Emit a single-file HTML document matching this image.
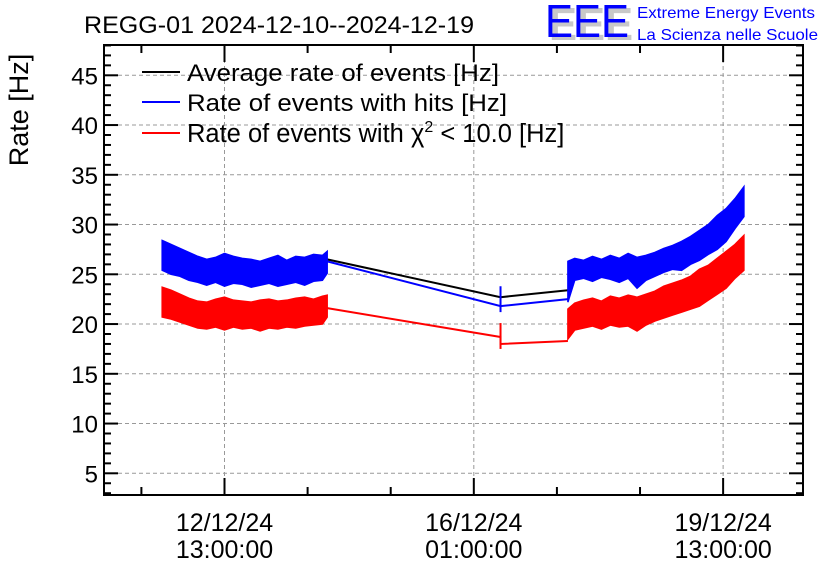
<!DOCTYPE html>
<html><head><meta charset="utf-8"><style>
body{margin:0;background:#fff;}
svg{display:block;font-family:"Liberation Sans",sans-serif;}
</style></head><body>
<svg id="c" width="836" height="572" viewBox="0 0 836 572">
<rect width="836" height="572" fill="#fff"/>
<text x="84" y="33" font-size="24" textLength="390" lengthAdjust="spacingAndGlyphs">REGG-01 2024-12-10--2024-12-19</text>
<g>
<text x="549" y="40" font-size="46" fill="#c8c8c8" font-weight="bold" textLength="84" lengthAdjust="spacingAndGlyphs">EEE</text>
<text x="545" y="37" font-size="46" fill="#0000ff" textLength="84" lengthAdjust="spacingAndGlyphs">EEE</text>
<text x="637" y="18" font-size="16" fill="#0000ff" textLength="178" lengthAdjust="spacingAndGlyphs">Extreme Energy Events</text>
<text x="637" y="40" font-size="16" fill="#0000ff" textLength="181" lengthAdjust="spacingAndGlyphs">La Scienza nelle Scuole</text>
</g>
<text transform="translate(28,110) rotate(-90)" font-size="27" text-anchor="middle">Rate [Hz]</text>
<g id="grid"></g><g id="series"></g><g id="axes"></g>
<g font-size="24">
<g><line x1="142" y1="72" x2="180" y2="72" stroke="#000" stroke-width="2"/><text x="187" y="81" textLength="312" lengthAdjust="spacingAndGlyphs">Average rate of events [Hz]</text></g>
<g><line x1="142" y1="102" x2="180" y2="102" stroke="#00f" stroke-width="2"/><text x="187" y="111" textLength="320" lengthAdjust="spacingAndGlyphs">Rate of events with hits [Hz]</text></g>
<g><line x1="142" y1="133" x2="180" y2="133" stroke="#f00" stroke-width="2"/><text x="187" y="142" font-size="25.5">Rate of events with χ<tspan font-size="16" dy="-10">2</tspan><tspan dy="10"> &lt; 10.0 [Hz]</tspan></text></g>
</g>
</svg>
<script>
const yTicks=[5,10,15,20,25,30,35,40,45];
const xTickHours=[0,84,168];
const xTickLabels1=["12/12/24","16/12/24","19/12/24"];
const xTickLabels2=["13:00:00","01:00:00","13:00:00"];
// segment 1 (hours from 12/12 13:00)
const t1=[-21,-18,-15,-12,-9,-6,-3,0,3,6,9,12,15,18,21,24,27,30,33,34.6];
const blueHi1=[28.4,28.0,27.6,27.2,26.8,26.5,26.7,27.1,26.8,26.6,26.5,26.3,26.6,26.9,26.4,26.8,26.7,27.0,26.9,27.3];
const blueLo1=[25.4,25.0,24.8,24.4,24.2,23.9,24.2,23.8,24.1,24.0,23.7,23.9,24.1,23.8,24.0,24.2,23.9,24.3,24.4,25.1];
const redHi1=[23.7,23.4,23.0,22.6,22.3,22.2,22.5,22.7,22.4,22.3,22.2,22.4,22.5,22.3,22.4,22.6,22.7,22.5,22.8,22.9];
const redLo1=[20.7,20.5,20.2,19.9,19.6,19.5,19.7,19.4,19.7,19.5,19.6,19.3,19.6,19.5,19.7,19.6,19.8,19.9,20.0,20.7];
// gap segment
const tGap=[34.6,93,93,115.7];
const blackGap=[26.5,22.7,22.7,23.4];
const blueGap=[26.3,21.8,21.8,22.5];
const redGap=[21.6,18.7,18.0,18.3];
const spikeT=93;
const blueSpike=[21.2,23.8];
const redSpike=[17.5,20.1];
// segment 3
const t3=[115.7,118,121,124,127,130,133,136,139,142,145,148,151,154,157,160,163,166,169,172,175];
const blueHi3=[26.3,26.6,26.4,26.8,26.5,26.9,26.6,27.1,26.7,26.9,27.2,27.6,27.9,28.3,28.8,29.4,30.0,30.9,31.6,32.6,33.8];
const blueLo3=[22.2,24.4,24.6,24.3,24.7,24.5,24.2,24.6,23.6,24.4,24.8,25.2,25.5,25.4,26.0,26.4,27.0,27.5,28.3,29.6,30.8];
const redHi3=[21.5,22.1,22.4,22.6,22.3,22.8,22.6,22.9,22.7,23.0,23.3,23.8,24.1,24.4,24.8,25.5,25.9,26.6,27.3,28.0,28.9];
const redLo3=[18.5,19.4,19.6,19.8,19.5,19.9,19.7,19.8,19.3,19.9,20.3,20.6,20.9,21.2,21.5,21.8,22.4,23.0,23.6,24.6,25.4];

const L=104,R=803,T=45,B=495;
const X=h=>224.5+h*2.968;
const Y=v=>274.3-(v-25)*9.95;
const NS="http://www.w3.org/2000/svg";
function mk(tag,attrs,parent){const e=document.createElementNS(NS,tag);for(const k in attrs)e.setAttribute(k,attrs[k]);parent.appendChild(e);return e;}
const grid=document.getElementById('grid'),ser=document.getElementById('series'),ax=document.getElementById('axes');

yTicks.forEach(v=>{
 const g=mk('line',{x1:L,x2:R,y1:Y(v),y2:Y(v),stroke:'#999','stroke-dasharray':'4,3'},grid);
 
 
 const t=mk('text',{x:98,y:Y(v)+9,'font-size':24,'text-anchor':'end'},ax);t.textContent=v;
 
 
});
xTickHours.forEach((h,i)=>{
 const g=mk('line',{x1:X(h),x2:X(h),y1:T,y2:B,stroke:'#999','stroke-dasharray':'4,3'},grid);
 
 
 const t=mk('text',{x:X(h),y:531,'font-size':25,'text-anchor':'middle'},ax);t.textContent=xTickLabels1[i];
 
 
 const t2=mk('text',{x:X(h),y:558,'font-size':25,'text-anchor':'middle'},ax);t2.textContent=xTickLabels2[i];
 
 
});
const fr=mk('rect',{x:L,y:T,width:R-L,height:B-T,fill:'none',stroke:'#000','stroke-width':2},ax);


for(let v=3;v<=48;v++){const len=v%5==0?14:7;
 mk('line',{x1:L,x2:L+len,y1:Y(v),y2:Y(v),stroke:'#000','stroke-width':2},ax);
 mk('line',{x1:R-len,x2:R,y1:Y(v),y2:Y(v),stroke:'#000','stroke-width':2},ax);}
for(let h=-28;h<=196;h+=28){if(X(h)<L||X(h)>R)continue;const len=(h%84==0)?17:8;
 mk('line',{x1:X(h),x2:X(h),y1:B-len,y2:B,stroke:'#000','stroke-width':2},ax);
 mk('line',{x1:X(h),x2:X(h),y1:T,y2:T+len,stroke:'#000','stroke-width':2},ax);}

function band(t,hi,lo,col,name){
 let pts=t.map((h,i)=>X(h)+','+Y(hi[i]));
 for(let i=t.length-1;i>=0;i--)pts.push(X(t[i])+','+Y(lo[i]));
 const p=mk('polygon',{points:pts.join(' '),fill:col,stroke:col,'stroke-width':1.5},ser);
 
 
}
function line(t,v,col,name){
 const p=mk('polyline',{points:t.map((h,i)=>X(h)+','+Y(v[i])).join(' '),fill:'none',stroke:col,'stroke-width':2},ser);
 
 
}
line(tGap,blackGap,'#000','average-rate-line');
line(tGap,blueGap,'#00f','hits-rate-gap-line');
line(tGap,redGap,'#f00','chi2-rate-gap-line');
const sb=mk('line',{x1:X(spikeT),x2:X(spikeT),y1:Y(blueSpike[0]),y2:Y(blueSpike[1]),stroke:'#00f','stroke-width':2},ser);


const sr=mk('line',{x1:X(spikeT),x2:X(spikeT),y1:Y(redSpike[0]),y2:Y(redSpike[1]),stroke:'#f00','stroke-width':2},ser);


band(t1,blueHi1,blueLo1,'#00f','hits-rate-band-1');
band(t1,redHi1,redLo1,'#f00','chi2-rate-band-1');
band(t3,blueHi3,blueLo3,'#00f','hits-rate-band-3');
band(t3,redHi3,redLo3,'#f00','chi2-rate-band-3');
</script>
</body></html>
